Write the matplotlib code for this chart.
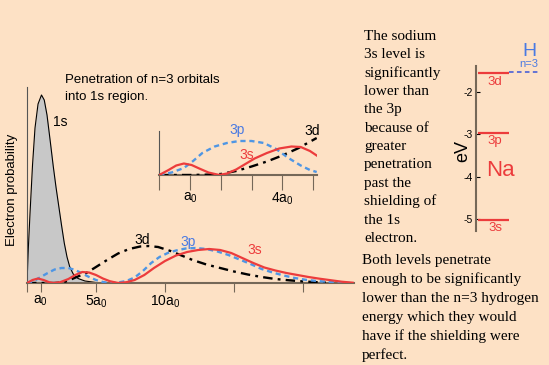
#!/usr/bin/env python3

import matplotlib
matplotlib.use("Agg")
import matplotlib.pyplot as plt

# DATA  (r in units of a0, heights in arbitrary probability units)

# main plot
r_1s = [0, 0.1, 0.22, 0.4, 0.58, 0.8, 1.05, 1.25, 1.45, 1.7, 1.9, 2.1, 2.3, 2.5,
        2.7, 2.9, 3.1, 3.35, 3.7, 4.2, 5.0, 5.5]
p_1s = [0, 36, 70, 118, 155, 179, 188, 183, 168, 140, 117, 96, 77, 58,
        40, 26, 16, 9, 4.5, 2, 0.5, 0]

r_3s = [0, 0.4, 0.8, 1.2, 1.6, 1.9, 2.4, 3.0, 3.5, 4.0, 4.5, 5.0, 5.5, 6.0, 6.6,
        7.2, 7.8, 8.5, 9.2, 10.0, 10.8, 11.6, 12.4, 13.2, 14.0, 14.8, 15.6, 16.4,
        17.2, 18.0, 18.8, 19.6, 20.4, 21.2, 22.0, 22.8, 23.6]
p_3s = [0, 3, 4.5, 3, 0.8, 0, 0.8, 4, 8, 11, 10.5, 8, 4.5, 1.8, 0,
        0.8, 3, 8, 15, 22, 27.5, 31, 33, 34, 33, 30, 25, 20,
        15.5, 12.5, 10, 8, 6, 4.3, 2.8, 1.3, 0.3]

r_3p = [0, 0.5, 1.0, 1.5, 2.0, 2.5, 3.0, 3.5, 4.0, 4.5, 5.0, 5.5, 6.0, 6.6, 7.2,
        7.8, 8.4, 9.0, 9.6, 10.2, 10.8, 11.5, 12.2, 13.0, 13.8, 14.6, 15.4, 16.2,
        17.0, 17.8, 18.6, 19.4, 20.2, 21.0, 21.8, 22.6, 23.4]
p_3p = [0, 2, 6, 10, 13.5, 15, 15, 13, 9.5, 6, 3, 1, 0, 0.5, 2,
        5.5, 12, 20, 26, 30, 32.5, 34.5, 35, 34, 31.5, 28, 23.5, 19,
        14, 10.5, 7.5, 5, 3.2, 2, 1.2, 0.5, 0]

r_3d = [0, 2.0, 2.6, 3.1, 3.6, 4.3, 5.0, 5.8, 6.6, 7.4, 8.2, 8.8, 9.5, 10.4, 11.2,
        12.0, 13.0, 14.0, 15.0, 16.0, 17.0, 18.0, 19.0, 20.0, 21.0, 22.0]
p_3d = [0, 0, 0.5, 3, 6, 10, 16, 23, 29.5, 34, 36.5, 37, 36, 32, 27.5,
        23, 18.5, 15, 11.5, 8.5, 6, 4, 2.7, 1.6, 0.8, 0.3]

# inset (close-up of r < 5 a0)
ri_3s = [0, 0.3, 0.55, 0.8, 1.05, 1.3, 1.6, 1.95, 2.2, 2.5, 2.8, 3.1, 3.5, 3.9,
         4.3, 4.6, 4.9, 5.12]
pi_3s = [0, 5, 9.5, 11.5, 10, 6.5, 2.5, 0, 1.5, 5.5, 11, 16.5, 22, 26.5,
         28.5, 28, 24, 19.5]
ri_3p = [0, 0.4, 0.8, 1.1, 1.4, 1.8, 2.2, 2.6, 3.0, 3.4, 3.8, 4.2, 4.6, 4.9, 5.12]
pi_3p = [0, 2.5, 7, 14, 22, 28.5, 32, 34, 34, 32, 26, 17, 9.5, 5, 3]
ri_3d = [0, 1.0, 1.5, 2.0, 2.5, 3.0, 3.5, 4.0, 4.5, 5.12]
pi_3d = [0, 0, 0.3, 1, 4, 8.5, 13.5, 19.5, 26.5, 37]

# energy levels (eV)
na_levels = ['3d', '3p', '3s']
na_energy = [-1.57, -2.97, -5.03]
h_n3_energy = -1.53
ev_ticks = [-2, -3, -4, -5]

main_ticks = [0, 1, 5, 10, 15, 20]
main_ticklabels = ['', 'a$_0$', '5a$_0$', '10a$_0$', '', '']
inset_ticks = [0, 1, 2, 3, 4, 5]
inset_ticklabels = ['', 'a$_0$', '', '', '4a$_0$', '']

side_text = ['The sodium', '3s level is', 'significantly', 'lower than', 'the 3p',
             'because of', 'greater', 'penetration', 'past the', 'shielding of',
             'the 1s', 'electron.']
bottom_text = ['Both levels penetrate', 'enough to be significantly',
               'lower than the n=3 hydrogen', 'energy which they would',
               'have if the shielding were', 'perfect.']

# STYLE
W, H = 549, 365
BG = '#fde1c5'
RED = '#ec3c3c'
BLUE_LINE = '#4f96e4'
BLUE_TEXT = '#4a7ae2'
AXIS = '#756858'

plt.rcParams['font.family'] = ['Liberation Sans', 'DejaVu Sans']
plt.rcParams['mathtext.default'] = 'regular'


def fx(x):
    return x / W


def fy(y):
    return 1 - y / H


def box(x0, y0, x1, y1):
    return [fx(x0), fy(y1), (x1 - x0) / W, (y1 - y0) / H]


def draw_orbitals(ax, r3s, p3s, r3p, p3p, r3d, p3d):
    ax.plot(r3d, p3d, color='black', lw=1.7, ls=(0, (4, 2.2, 1.2, 2.2)), zorder=3)
    ax.plot(r3p, p3p, color=BLUE_LINE, lw=1.7, ls=(0, (2.2, 1.6)), zorder=4)
    ax.plot(r3s, p3s, color=RED, lw=1.6, zorder=5)


def style_axes(ax):
    ax.set_facecolor('none')
    for s in ['top', 'right']:
        ax.spines[s].set_visible(False)
    ax.spines['left'].set_color('#555555')
    ax.spines['left'].set_linewidth(0.8)
    ax.spines['bottom'].set_color(AXIS)
    ax.spines['bottom'].set_linewidth(1.5)
    ax.set_yticks([])
    ax.tick_params(axis='x', colors=AXIS, width=0.8, labelsize=10,
                   labelcolor='black')


fig = plt.figure(figsize=(W / 100, H / 100), dpi=100)
fig.patch.set_facecolor(BG)

# main plot
ax = fig.add_axes(box(27, 86.7, 354, 283))
style_axes(ax)
ax.fill_between(r_1s, p_1s, color='#c8c8c8', lw=0, zorder=1)
ax.plot(r_1s, p_1s, color='black', lw=0.8, zorder=2)
draw_orbitals(ax, r_3s, p_3s, r_3p, p_3p, r_3d, p_3d)
ax.set_xlim(0, 327 / 13.8)
ax.set_ylim(0, 196.3)
ax.set_xticks(main_ticks)
ax.set_xticklabels(main_ticklabels)
ax.tick_params(axis='x', length=6.5, pad=1)

# inset
axi = fig.add_axes(box(159.3, 131, 316.7, 175))
style_axes(axi)
draw_orbitals(axi, ri_3s, pi_3s, ri_3p, pi_3p, ri_3d, pi_3d)
axi.set_xlim(0, 5.12)
axi.set_ylim(0, 44)
axi.set_xticks(inset_ticks)
axi.set_xticklabels(inset_ticklabels)
axi.tick_params(axis='x', length=10.5, pad=1)

# energy level diagram
axe = fig.add_axes(box(476, 66, 540, 230.7))
axe.set_facecolor('none')
for s in ['top', 'right', 'bottom']:
    axe.spines[s].set_visible(False)
axe.spines['left'].set_color(AXIS)
axe.spines['left'].set_linewidth(1.5)
axe.set_xlim(0, 1)
axe.set_ylim(-5.276, -1.394)
axe.set_xticks([])
axe.set_yticks(ev_ticks)
axe.set_yticklabels([str(t) for t in ev_ticks])
axe.tick_params(axis='y', direction='in', length=3, width=0.8, pad=2,
                labelsize=7.5)
for name, e in zip(na_levels, na_energy):
    axe.hlines(e, 0.027, 0.516, color=RED, lw=1.6)
    axe.text(0.30, e - 0.05, name, color=RED, fontsize=9.5, ha='center', va='top')
axe.hlines(h_n3_energy, 0.516, 0.964, color='#3a55d8', lw=1.1, ls=(0, (3, 2.2)))

# text
fig.text(fx(65), fy(80), 'Penetration of n=3 orbitals', fontsize=9.5, va='center')
fig.text(fx(65), fy(97), 'into 1s region.', fontsize=9.5, va='center')
fig.text(fx(12), fy(190), 'Electron probability', fontsize=9.5, rotation=90,
         ha='center', va='center')
fig.text(fx(60), fy(122), '1s', fontsize=10, ha='center', va='center')
fig.text(fx(141.7), fy(240), '3d', fontsize=10, ha='center', va='center')
fig.text(fx(188), fy(242), '3p', fontsize=10, ha='center', va='center', color=BLUE_TEXT)
fig.text(fx(255), fy(250), '3s', fontsize=10, ha='center', va='center', color=RED)
fig.text(fx(237), fy(130), '3p', fontsize=10, ha='center', va='center', color=BLUE_TEXT)
fig.text(fx(246.7), fy(155), '3s', fontsize=10, ha='center', va='center', color=RED)
fig.text(fx(311.7), fy(130.7), '3d', fontsize=10, ha='center', va='center')

fig.text(fx(500), fy(171), 'Na', fontsize=16, ha='center', va='center', color=RED)
fig.text(fx(529), fy(51), 'H', fontsize=14, ha='center', va='center', color=BLUE_TEXT)
fig.text(fx(529), fy(64), 'n=3', fontsize=8, ha='center', va='center', color=BLUE_TEXT)
fig.text(fx(463), fy(151), 'eV', fontsize=13, rotation=90, ha='center', va='center')

for i, line in enumerate(side_text):
    fig.text(fx(364), fy(36 + 18.4 * i), line, fontsize=11, va='center',
             family='Liberation Serif')
for i, line in enumerate(bottom_text):
    fig.text(fx(362), fy(260.7 + 18.9 * i), line, fontsize=11, va='center',
             family='Liberation Serif')

fig.savefig('out.png', dpi=100, facecolor=BG)
